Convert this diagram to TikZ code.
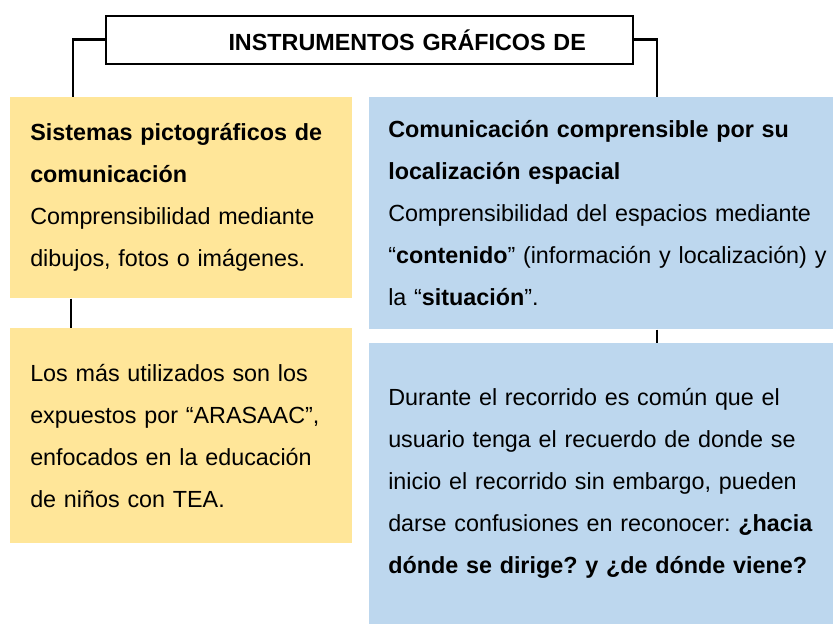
\documentclass[tikz,border=0pt]{standalone}
\usepackage{fontspec}
\setmainfont{Liberation Sans}
\frenchspacing
\definecolor{amarillo}{HTML}{FFE699}
\definecolor{celeste}{HTML}{BDD7EE}

\begin{document}
\begin{tikzpicture}[x=0.75pt, y=-0.75pt, font=\fontsize{17.5}{31.5}\selectfont,
  caja/.style={anchor=north west, inner xsep=15pt, inner ysep=0pt, align=left},
  link/.style={line width=2.2pt}]
  \useasboundingbox (0,0) rectangle (833,624);
  \clip (0,0) rectangle (833,624);

  \node[draw, line width=1.3pt, fill=white, anchor=north west, text width=324.75pt,
        inner xsep=35.25pt, minimum height=36pt, align=right,
        font=\bfseries\fontsize{17.5}{20}\selectfont] (tit) at (105,15) {INSTRUMENTOS GRÁFICOS DE};

  \node[caja, fill=amarillo, text width=226pt, minimum height=150.75pt] (sis) at (10,97) {
    \textbf{Sistemas pictográficos de}\\
    \textbf{comunicación}\\
    Comprensibilidad mediante\\
    dibujos, fotos o imágenes.
  };
  \node[caja, fill=amarillo, text width=226pt, minimum height=161.25pt] (ara) at (10,328) {
    Los más utilizados son los\\
    expuestos por “ARASAAC”,\\
    enfocados en la educación\\
    de niños con TEA.
  };
  \node[caja, fill=celeste, inner xsep=14.25pt, text width=335pt, minimum height=174pt] (com) at (369,97) {
    \textbf{Comunicación comprensible por su}\\
    \textbf{localización espacial}\\
    Comprensibilidad del espacios mediante\\
    “\textbf{contenido}” (información y localización) y\\
    la “\textbf{situación}”.
  };
  \node[caja, fill=celeste, inner xsep=14.25pt, text width=335pt, minimum height=210.75pt] (rec) at (369,343) {
    Durante el recorrido es común que el\\
    usuario tenga el recuerdo de donde se\\
    inicio el recorrido sin embargo, pueden\\
    darse confusiones en reconocer: \textbf{¿hacia}\\
    \textbf{dónde se dirige? y ¿de dónde viene?}
  };

  \draw[link] (tit.west) -| ([xshift=47.25pt]sis.north west);
  \draw[link] (tit.east) -| ([xshift=216pt]com.north west);
  \draw[link] ([xshift=45.75pt]sis.south west) -- ([xshift=45.75pt]ara.north west);
  \draw[link] ([xshift=216pt]com.south west) -- ([xshift=216pt]rec.north west);
\end{tikzpicture}
\end{document}
